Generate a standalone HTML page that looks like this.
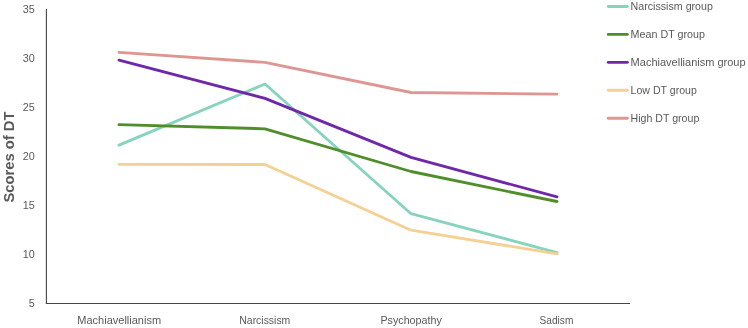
<!DOCTYPE html>
<html>
<head>
<meta charset="utf-8">
<title>Scores of DT</title>
<style>
html,body{margin:0;padding:0;background:#ffffff;}
body{width:748px;height:328px;overflow:hidden;}
svg{display:block;}
text{font-family:"Liberation Sans",sans-serif;fill:#595959;}
.t{font-size:10.8px;}
.ttl{font-size:14.4px;font-weight:bold;}
.s{fill:none;stroke-width:2.85;stroke-linecap:round;stroke-linejoin:round;}
</style>
</head>
<body>
<svg width="748" height="328" viewBox="0 0 748 328">
<rect x="0" y="0" width="748" height="328" fill="#ffffff"/>
<!-- axes -->
<path d="M46.4 9 V303.45 H630" fill="none" stroke="#454545" stroke-width="1.1"/>
<!-- series -->
<polyline class="s" stroke="#87d4be" points="119,145.1 265,84 411,213.7 557,252.6"/>
<polyline class="s" stroke="#4f8e2a" points="119,124.6 265,128.8 411,171.5 557,201.5"/>
<polyline class="s" stroke="#6e28a8" points="119,60.1 265,98.4 411,157.4 557,196.9"/>
<polyline class="s" stroke="#f4d193" points="119,164.3 265,164.5 411,230.2 557,253.8"/>
<polyline class="s" stroke="#de9692" points="119,52.4 265,62.4 411,92.5 557,94.1"/>
<!-- y tick labels -->
<g class="t" text-anchor="end">
<text x="34.8" y="13.4">35</text>
<text x="34.8" y="62.4">30</text>
<text x="34.8" y="111.4">25</text>
<text x="34.8" y="160.4">20</text>
<text x="34.8" y="209.4">15</text>
<text x="34.8" y="258.4">10</text>
<text x="34.8" y="307.4">5</text>
</g>
<!-- x labels -->
<g class="t">
<text x="77.3" y="323.5" textLength="83.8" lengthAdjust="spacingAndGlyphs">Machiavellianism</text>
<text x="239.3" y="323.5" textLength="51" lengthAdjust="spacingAndGlyphs">Narcissism</text>
<text x="380.4" y="323.5" textLength="61.4" lengthAdjust="spacingAndGlyphs">Psychopathy</text>
<text x="539.6" y="323.5" textLength="33.8" lengthAdjust="spacingAndGlyphs">Sadism</text>
</g>
<!-- axis title -->
<text class="ttl" transform="translate(14.2,202.6) rotate(-90)" textLength="91.1" lengthAdjust="spacingAndGlyphs">Scores of DT</text>
<!-- legend -->
<g class="s">
<line x1="608.2" y1="6.5" x2="627.4" y2="6.5" stroke="#87d4be"/>
<line x1="608.2" y1="34.4" x2="627.4" y2="34.4" stroke="#4f8e2a"/>
<line x1="608.2" y1="62.3" x2="627.4" y2="62.3" stroke="#6e28a8"/>
<line x1="608.2" y1="90.2" x2="627.4" y2="90.2" stroke="#f4d193"/>
<line x1="608.2" y1="118.2" x2="627.4" y2="118.2" stroke="#de9692"/>
</g>
<g class="t">
<text x="630.6" y="10.2" textLength="82.3" lengthAdjust="spacingAndGlyphs">Narcissism group</text>
<text x="630.6" y="38.1" textLength="74.4" lengthAdjust="spacingAndGlyphs">Mean DT group</text>
<text x="630.6" y="66" textLength="115" lengthAdjust="spacingAndGlyphs">Machiavellianism group</text>
<text x="630.6" y="93.9" textLength="66.2" lengthAdjust="spacingAndGlyphs">Low DT group</text>
<text x="630.6" y="121.9" textLength="68.7" lengthAdjust="spacingAndGlyphs">High DT group</text>
</g>
</svg>
</body>
</html>
